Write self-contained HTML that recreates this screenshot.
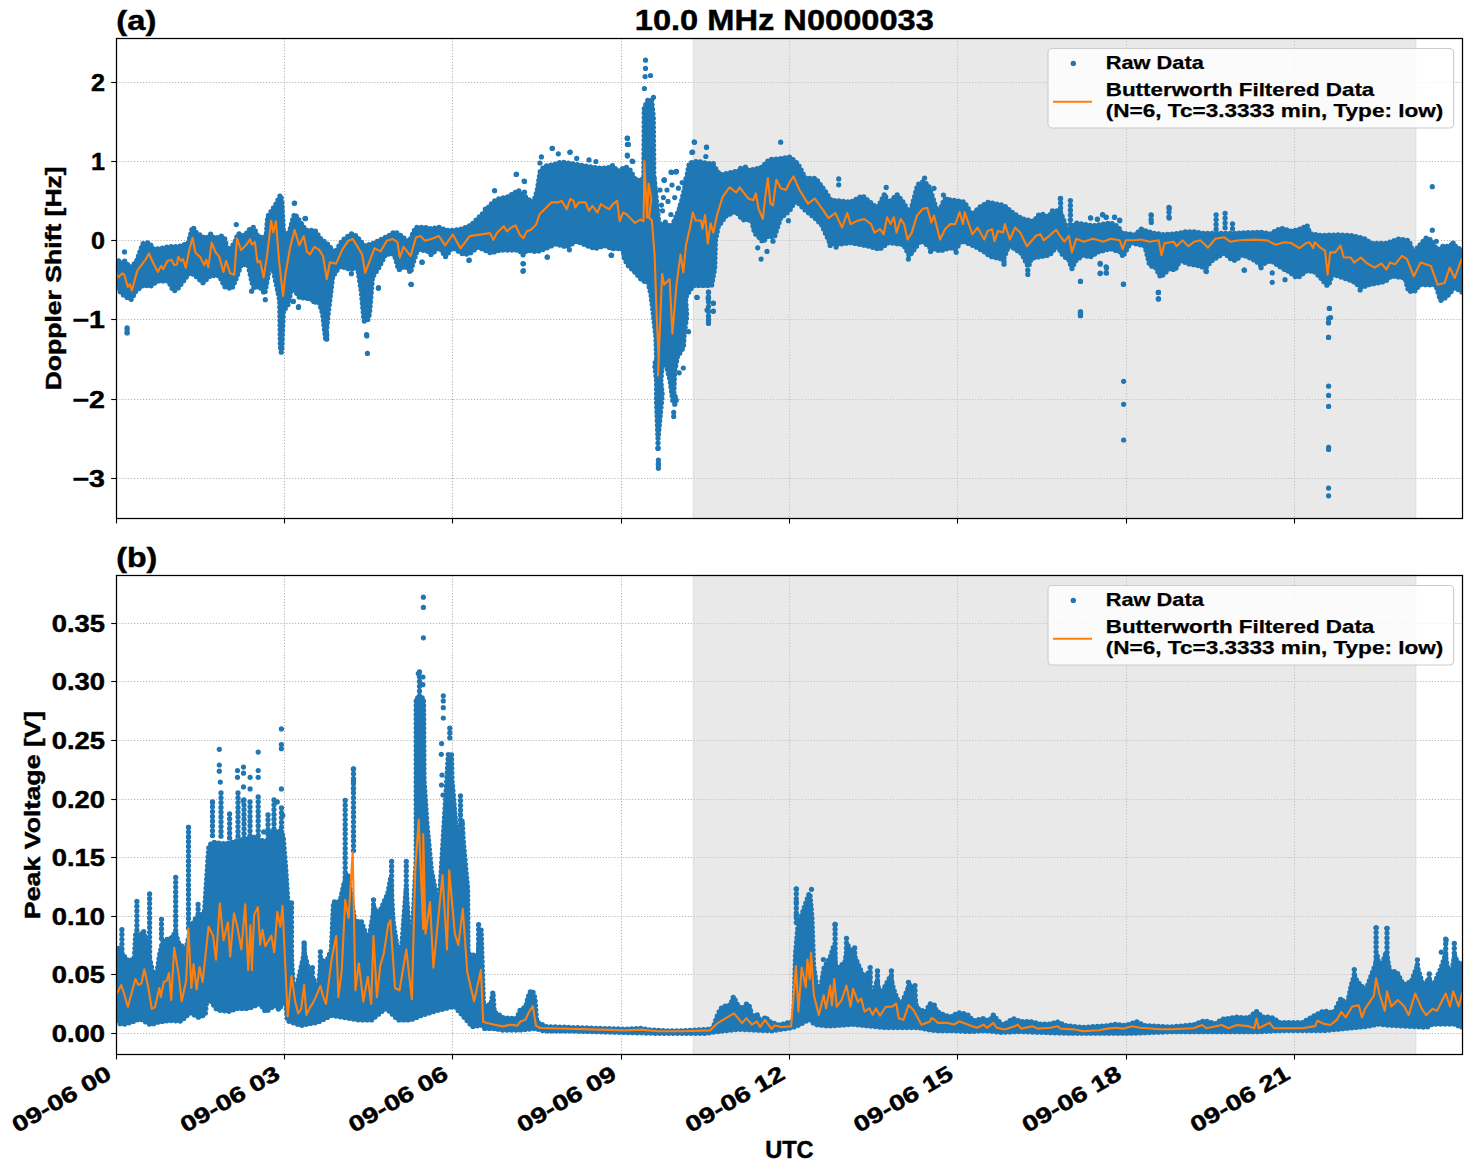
<!DOCTYPE html>
<html><head><meta charset="utf-8"><style>html,body{margin:0;padding:0;background:#fff;width:1472px;height:1172px;overflow:hidden}</style></head>
<body><svg width="1472" height="1172" viewBox="0 0 1472 1172" style="display:block">
<rect width="1472" height="1172" fill="#fff"/>
<g font-family="'Liberation Sans', sans-serif" font-weight="bold" fill="#000">
<clipPath id="clipa"><rect x="116.5" y="38.5" width="1346.0" height="480.0"/></clipPath>
<line x1="116.5" y1="38.5" x2="116.5" y2="518.5" stroke="#b0b0b0" stroke-width="1.1" stroke-dasharray="1.1,1.83"/>
<line x1="284.5" y1="38.5" x2="284.5" y2="518.5" stroke="#b0b0b0" stroke-width="1.1" stroke-dasharray="1.1,1.83"/>
<line x1="452.5" y1="38.5" x2="452.5" y2="518.5" stroke="#b0b0b0" stroke-width="1.1" stroke-dasharray="1.1,1.83"/>
<line x1="621.5" y1="38.5" x2="621.5" y2="518.5" stroke="#b0b0b0" stroke-width="1.1" stroke-dasharray="1.1,1.83"/>
<line x1="789.5" y1="38.5" x2="789.5" y2="518.5" stroke="#b0b0b0" stroke-width="1.1" stroke-dasharray="1.1,1.83"/>
<line x1="957.5" y1="38.5" x2="957.5" y2="518.5" stroke="#b0b0b0" stroke-width="1.1" stroke-dasharray="1.1,1.83"/>
<line x1="1126.5" y1="38.5" x2="1126.5" y2="518.5" stroke="#b0b0b0" stroke-width="1.1" stroke-dasharray="1.1,1.83"/>
<line x1="1294.5" y1="38.5" x2="1294.5" y2="518.5" stroke="#b0b0b0" stroke-width="1.1" stroke-dasharray="1.1,1.83"/>
<line x1="116.5" y1="82.5" x2="1462.5" y2="82.5" stroke="#b0b0b0" stroke-width="1.1" stroke-dasharray="1.1,1.83"/>
<line x1="116.5" y1="161.5" x2="1462.5" y2="161.5" stroke="#b0b0b0" stroke-width="1.1" stroke-dasharray="1.1,1.83"/>
<line x1="116.5" y1="240.5" x2="1462.5" y2="240.5" stroke="#b0b0b0" stroke-width="1.1" stroke-dasharray="1.1,1.83"/>
<line x1="116.5" y1="319.5" x2="1462.5" y2="319.5" stroke="#b0b0b0" stroke-width="1.1" stroke-dasharray="1.1,1.83"/>
<line x1="116.5" y1="399.5" x2="1462.5" y2="399.5" stroke="#b0b0b0" stroke-width="1.1" stroke-dasharray="1.1,1.83"/>
<line x1="116.5" y1="478.5" x2="1462.5" y2="478.5" stroke="#b0b0b0" stroke-width="1.1" stroke-dasharray="1.1,1.83"/>
<rect x="693.3" y="38.5" width="722.5" height="480.0" fill="#d3d3d3" fill-opacity="0.5" stroke="#d3d3d3" stroke-opacity="0.5" stroke-width="1.39"/>
<g clip-path="url(#clipa)">
<path d="M118.6,261.0 L118.6,290.2 L124.8,296.2 L131.1,299.4 L135.8,291.1 L143.1,285.3 L144.3,285.0 L150.5,286.2 L157.4,280.9 L167.4,280.9 L168.5,281.2 L173.7,291.1 L177.0,289.5 L189.0,273.5 L190.3,272.7 L191.6,273.0 L197.2,277.2 L202.9,282.8 L210.3,275.6 L218.7,275.6 L219.7,276.5 L224.8,286.7 L231.8,288.7 L235.8,279.4 L240.7,265.6 L241.4,264.8 L242.5,264.5 L247.0,264.5 L248.3,265.5 L252.6,284.9 L254.3,288.4 L258.3,286.4 L259.9,286.6 L264.7,293.8 L269.2,268.7 L270.4,267.4 L272.1,267.4 L273.1,268.8 L279.7,300.3 L280.4,346.5 L281.3,352.3 L281.6,352.3 L283.4,311.0 L288.1,304.3 L291.1,290.7 L292.5,289.4 L293.6,289.4 L294.6,290.1 L300.1,298.3 L307.2,297.1 L313.8,300.3 L318.4,301.8 L319.3,302.6 L322.7,314.0 L325.7,339.5 L327.9,315.7 L332.6,277.1 L339.0,267.2 L340.1,266.4 L341.3,266.4 L350.0,269.3 L355.9,267.8 L357.0,268.1 L357.8,269.0 L361.1,289.6 L364.1,320.9 L364.8,321.4 L367.5,320.5 L369.4,314.0 L372.5,277.0 L378.9,267.3 L385.1,255.0 L386.1,254.1 L393.1,254.0 L394.5,254.8 L398.7,269.8 L404.3,266.5 L405.6,266.4 L406.7,267.0 L410.5,272.7 L412.5,264.6 L417.1,250.8 L417.8,249.8 L418.8,249.4 L427.4,251.1 L431.3,254.7 L437.7,248.3 L439.5,248.0 L440.6,248.7 L445.3,256.9 L451.2,248.7 L452.2,248.0 L453.7,248.1 L462.6,254.0 L469.0,254.0 L477.2,247.5 L478.4,247.0 L490.9,253.0 L499.7,250.1 L518.8,250.1 L519.8,250.7 L523.0,254.9 L526.1,250.8 L527.1,250.2 L536.6,251.6 L545.3,248.7 L555.1,244.0 L567.2,246.9 L576.7,240.9 L586.7,245.6 L595.2,248.5 L604.4,245.5 L612.5,248.6 L621.9,248.6 L623.2,250.1 L624.4,258.4 L627.6,264.8 L635.4,272.6 L641.3,279.5 L645.1,281.7 L646.6,281.3 L648.1,282.1 L651.1,295.1 L655.9,336.5 L656.6,360.1 L654.6,363.7 L656.6,381.0 L656.6,401.4 L657.9,436.3 L658.2,436.3 L662.2,394.6 L660.8,381.0 L662.3,363.8 L663.0,362.9 L664.1,362.6 L665.2,362.9 L666.0,363.9 L670.2,380.7 L672.9,401.9 L674.9,404.3 L676.9,398.0 L674.4,396.0 L673.8,394.8 L674.5,372.6 L677.3,357.0 L683.4,347.5 L684.0,336.3 L686.7,316.0 L685.5,297.6 L692.5,286.3 L693.4,285.5 L711.6,285.4 L714.7,268.1 L715.4,240.7 L718.2,226.7 L725.6,216.3 L734.8,211.7 L736.6,212.2 L742.9,219.8 L750.4,219.9 L751.7,220.6 L754.7,233.1 L761.5,239.6 L762.6,242.2 L767.9,235.9 L769.0,235.8 L774.3,237.1 L780.6,218.0 L789.4,210.8 L794.4,202.4 L796.2,201.6 L797.5,202.2 L805.9,210.7 L814.5,217.6 L821.5,224.5 L829.9,242.8 L837.1,244.3 L850.8,242.6 L868.1,246.0 L879.6,249.2 L888.4,242.6 L902.7,244.3 L904.1,245.2 L909.5,256.0 L919.6,241.7 L920.6,240.9 L922.3,241.2 L930.7,247.9 L940.0,251.0 L949.9,247.7 L956.1,249.1 L960.5,241.7 L962.4,240.9 L975.1,246.3 L983.7,251.4 L990.3,256.4 L1003.5,259.3 L1008.1,247.1 L1009.1,246.2 L1010.7,246.1 L1021.7,253.6 L1028.4,266.8 L1031.1,259.0 L1031.8,258.1 L1049.8,254.9 L1055.5,247.8 L1057.0,247.2 L1058.5,248.0 L1062.9,255.3 L1069.0,260.0 L1072.0,268.6 L1074.8,261.4 L1083.4,254.7 L1084.5,254.8 L1089.6,257.4 L1098.1,251.8 L1110.8,248.7 L1120.8,252.1 L1123.1,256.7 L1123.9,254.2 L1129.9,243.7 L1131.7,242.7 L1144.1,245.8 L1145.1,246.4 L1149.8,265.5 L1155.5,267.3 L1160.6,277.2 L1169.6,268.4 L1171.1,268.3 L1174.9,270.4 L1179.3,261.6 L1180.3,260.8 L1181.7,260.8 L1187.6,263.7 L1196.5,265.2 L1205.7,267.9 L1211.1,261.1 L1223.3,253.5 L1224.4,253.2 L1225.6,253.7 L1231.3,259.4 L1235.7,260.5 L1241.0,255.2 L1243.0,254.8 L1256.1,260.9 L1260.6,265.3 L1269.8,260.8 L1271.1,260.7 L1281.7,267.7 L1288.6,271.2 L1296.5,277.5 L1300.1,276.2 L1305.5,271.0 L1313.7,271.0 L1319.7,276.6 L1327.3,285.7 L1328.6,285.1 L1331.8,275.5 L1333.2,274.3 L1353.2,281.3 L1361.3,287.6 L1368.9,284.6 L1385.5,281.3 L1390.4,276.4 L1391.7,276.0 L1403.9,277.7 L1404.9,278.2 L1405.5,279.2 L1408.6,291.3 L1414.5,291.3 L1419.2,285.2 L1420.2,284.6 L1435.2,284.8 L1436.2,285.9 L1440.6,300.5 L1446.6,296.9 L1454.0,288.1 L1455.6,288.1 L1462.0,291.9 L1462.0,250.5 L1452.8,244.4 L1438.3,249.2 L1437.0,249.1 L1436.0,248.3 L1431.2,240.3 L1426.3,237.8 L1415.3,250.3 L1413.7,251.0 L1412.0,249.8 L1408.9,240.5 L1398.7,239.1 L1386.7,243.3 L1371.0,243.3 L1365.1,238.9 L1352.1,235.6 L1338.7,234.8 L1321.6,235.6 L1310.9,233.8 L1309.6,232.8 L1307.0,225.5 L1301.9,228.7 L1291.1,231.3 L1280.9,228.1 L1270.5,233.9 L1260.1,232.2 L1236.3,233.3 L1201.9,233.3 L1194.2,231.8 L1185.7,231.8 L1179.7,233.3 L1164.5,234.8 L1153.6,233.2 L1147.3,231.6 L1141.1,229.1 L1135.9,234.3 L1134.6,234.8 L1121.9,233.1 L1121.0,232.4 L1118.2,226.8 L1110.4,222.9 L1092.9,225.8 L1075.7,223.0 L1070.3,229.7 L1068.7,230.3 L1067.0,229.0 L1060.0,210.9 L1052.2,210.9 L1049.6,215.9 L1048.4,216.8 L1047.2,216.7 L1041.8,214.0 L1038.7,215.0 L1034.5,220.7 L1032.7,221.3 L1022.6,219.0 L1013.9,213.8 L1003.9,205.5 L988.1,202.3 L978.8,207.7 L973.8,213.6 L972.1,214.1 L970.8,213.3 L964.3,202.0 L944.6,199.0 L940.0,209.7 L939.0,210.6 L937.7,210.6 L936.3,209.3 L929.6,187.6 L924.1,181.3 L917.8,184.5 L911.2,209.3 L910.3,210.5 L908.9,210.7 L907.8,210.1 L902.5,201.3 L897.1,194.7 L890.0,201.8 L888.6,202.2 L886.9,200.9 L884.8,193.8 L878.5,206.4 L876.6,207.3 L875.5,206.9 L862.4,195.8 L850.9,202.2 L830.8,200.2 L825.1,191.1 L815.5,178.3 L806.3,178.3 L805.0,177.8 L797.8,163.9 L790.3,157.1 L780.8,158.7 L769.6,159.5 L760.8,168.0 L751.8,169.8 L740.0,170.6 L721.2,174.9 L719.4,174.2 L712.9,164.5 L697.1,161.3 L690.5,162.9 L689.4,162.8 L685.9,182.5 L680.3,206.6 L672.7,224.8 L671.3,226.0 L660.0,223.9 L658.7,222.6 L654.1,177.4 L636.4,180.4 L635.0,179.4 L630.5,170.5 L625.8,167.0 L618.1,171.2 L616.7,170.5 L613.0,165.5 L607.8,168.0 L598.1,168.1 L561.5,162.0 L552.6,165.0 L544.1,166.4 L540.2,171.5 L537.2,191.1 L534.0,200.7 L533.1,201.7 L532.0,201.9 L530.9,201.4 L523.3,195.3 L518.2,190.2 L513.3,193.9 L507.0,197.1 L499.1,198.7 L493.5,201.5 L484.5,212.0 L470.6,225.5 L462.6,228.8 L454.3,230.4 L446.3,230.3 L438.8,227.4 L431.3,228.8 L423.4,227.3 L415.7,227.3 L410.0,240.1 L408.6,241.1 L407.2,240.8 L399.4,234.6 L394.6,231.6 L390.7,234.8 L372.3,244.0 L364.9,245.7 L363.7,245.0 L356.3,236.1 L351.6,233.8 L342.2,240.5 L336.1,251.0 L335.1,251.8 L333.9,251.8 L327.0,243.6 L320.7,238.9 L315.0,230.4 L306.7,230.4 L305.5,229.8 L294.8,213.9 L293.4,216.8 L289.4,232.5 L287.9,233.4 L285.0,233.4 L283.9,232.8 L283.4,231.5 L281.8,201.0 L280.5,194.9 L275.6,204.8 L267.7,216.6 L266.3,235.4 L265.1,236.9 L258.9,237.1 L257.6,236.6 L253.7,227.1 L249.3,229.8 L244.7,235.5 L243.3,235.6 L238.2,233.6 L234.6,242.9 L230.3,248.7 L228.5,249.3 L226.9,248.0 L224.4,237.8 L220.6,235.9 L215.9,238.3 L214.7,238.4 L213.7,237.8 L210.8,234.0 L206.9,238.0 L205.0,238.3 L196.0,232.4 L193.0,227.1 L192.4,227.8 L188.4,242.6 L187.3,243.7 L178.7,246.6 L170.3,246.6 L155.1,249.4 L153.6,248.8 L148.8,242.7 L142.9,243.7 L136.4,261.8 L131.6,266.8 L130.3,267.1 L129.2,266.6 L124.6,261.0 L120.9,263.0 L119.6,262.5 Z" fill="#1f77b4" fill-rule="evenodd" stroke="#1f77b4" stroke-width="5.3" stroke-dasharray="0 4.5" stroke-linecap="round"/>
<path d="M643.7,198.0 L654.0,198.0 L653.3,116.6 L651.5,99.7 L647.8,100.5 L644.3,107.4 Z" fill="#1f77b4" fill-rule="evenodd" stroke="#1f77b4" stroke-width="5.3" stroke-dasharray="0 4.5" stroke-linecap="round"/>
<circle cx="127.1" cy="329.6" r="2.6" fill="#1f77b4"/>
<circle cx="127.1" cy="333.0" r="2.6" fill="#1f77b4"/>
<circle cx="124.5" cy="251.9" r="2.6" fill="#1f77b4"/>
<circle cx="236.3" cy="224.6" r="2.6" fill="#1f77b4"/>
<circle cx="294.3" cy="203.3" r="2.6" fill="#1f77b4"/>
<circle cx="305.4" cy="218.6" r="2.6" fill="#1f77b4"/>
<circle cx="251.6" cy="291.2" r="2.6" fill="#1f77b4"/>
<circle cx="265.3" cy="299.7" r="2.6" fill="#1f77b4"/>
<circle cx="293.4" cy="301.4" r="2.6" fill="#1f77b4"/>
<circle cx="298.6" cy="306.5" r="2.6" fill="#1f77b4"/>
<circle cx="307.1" cy="298.0" r="2.6" fill="#1f77b4"/>
<circle cx="307.7" cy="298.0" r="2.6" fill="#1f77b4"/>
<circle cx="313.7" cy="301.4" r="2.6" fill="#1f77b4"/>
<circle cx="326.5" cy="334.7" r="2.6" fill="#1f77b4"/>
<circle cx="326.5" cy="338.9" r="2.6" fill="#1f77b4"/>
<circle cx="366.6" cy="334.7" r="2.6" fill="#1f77b4"/>
<circle cx="367.4" cy="353.4" r="2.6" fill="#1f77b4"/>
<circle cx="422.0" cy="262.2" r="2.6" fill="#1f77b4"/>
<circle cx="468.9" cy="260.4" r="2.6" fill="#1f77b4"/>
<circle cx="378.5" cy="287.7" r="2.6" fill="#1f77b4"/>
<circle cx="410.9" cy="284.3" r="2.6" fill="#1f77b4"/>
<circle cx="305.1" cy="218.6" r="2.6" fill="#1f77b4"/>
<circle cx="552.3" cy="148.3" r="2.6" fill="#1f77b4"/>
<circle cx="570.2" cy="152.0" r="2.6" fill="#1f77b4"/>
<circle cx="516.5" cy="174.2" r="2.6" fill="#1f77b4"/>
<circle cx="524.1" cy="181.1" r="2.6" fill="#1f77b4"/>
<circle cx="523.3" cy="270.6" r="2.6" fill="#1f77b4"/>
<circle cx="523.3" cy="263.8" r="2.6" fill="#1f77b4"/>
<circle cx="547.2" cy="257.0" r="2.6" fill="#1f77b4"/>
<circle cx="611.2" cy="255.3" r="2.6" fill="#1f77b4"/>
<circle cx="627.4" cy="138.4" r="2.6" fill="#1f77b4"/>
<circle cx="627.4" cy="144.4" r="2.6" fill="#1f77b4"/>
<circle cx="664.1" cy="180.2" r="2.6" fill="#1f77b4"/>
<circle cx="676.0" cy="171.7" r="2.6" fill="#1f77b4"/>
<circle cx="645.5" cy="60.2" r="2.6" fill="#1f77b4"/>
<circle cx="645.5" cy="68.4" r="2.6" fill="#1f77b4"/>
<circle cx="645.1" cy="76.6" r="2.6" fill="#1f77b4"/>
<circle cx="650.5" cy="75.5" r="2.6" fill="#1f77b4"/>
<circle cx="644.4" cy="88.5" r="2.6" fill="#1f77b4"/>
<circle cx="653.5" cy="97.3" r="2.6" fill="#1f77b4"/>
<circle cx="627.3" cy="138.0" r="2.6" fill="#1f77b4"/>
<circle cx="628.3" cy="144.4" r="2.6" fill="#1f77b4"/>
<circle cx="627.3" cy="155.1" r="2.6" fill="#1f77b4"/>
<circle cx="632.1" cy="161.1" r="2.6" fill="#1f77b4"/>
<circle cx="694.2" cy="142.1" r="2.6" fill="#1f77b4"/>
<circle cx="706.5" cy="147.2" r="2.6" fill="#1f77b4"/>
<circle cx="692.6" cy="152.2" r="2.6" fill="#1f77b4"/>
<circle cx="705.8" cy="156.5" r="2.6" fill="#1f77b4"/>
<circle cx="664.2" cy="180.2" r="2.6" fill="#1f77b4"/>
<circle cx="675.8" cy="172.0" r="2.6" fill="#1f77b4"/>
<circle cx="671.0" cy="172.2" r="2.6" fill="#1f77b4"/>
<circle cx="711.9" cy="169.0" r="2.6" fill="#1f77b4"/>
<circle cx="713.3" cy="163.5" r="2.6" fill="#1f77b4"/>
<circle cx="745.4" cy="167.0" r="2.6" fill="#1f77b4"/>
<circle cx="740.6" cy="168.3" r="2.6" fill="#1f77b4"/>
<circle cx="611.6" cy="247.8" r="2.6" fill="#1f77b4"/>
<circle cx="611.6" cy="255.3" r="2.6" fill="#1f77b4"/>
<circle cx="696.9" cy="297.3" r="2.6" fill="#1f77b4"/>
<circle cx="708.5" cy="292.2" r="2.6" fill="#1f77b4"/>
<circle cx="708.5" cy="298.3" r="2.6" fill="#1f77b4"/>
<circle cx="713.3" cy="303.1" r="2.6" fill="#1f77b4"/>
<circle cx="707.2" cy="309.9" r="2.6" fill="#1f77b4"/>
<circle cx="713.3" cy="311.3" r="2.6" fill="#1f77b4"/>
<circle cx="708.5" cy="319.5" r="2.6" fill="#1f77b4"/>
<circle cx="708.5" cy="323.5" r="2.6" fill="#1f77b4"/>
<circle cx="688.5" cy="331.7" r="2.6" fill="#1f77b4"/>
<circle cx="757.7" cy="247.8" r="2.6" fill="#1f77b4"/>
<circle cx="658.0" cy="448.5" r="2.6" fill="#1f77b4"/>
<circle cx="658.4" cy="463.5" r="2.6" fill="#1f77b4"/>
<circle cx="658.4" cy="468.3" r="2.6" fill="#1f77b4"/>
<circle cx="683.3" cy="368.0" r="2.6" fill="#1f77b4"/>
<circle cx="679.2" cy="372.8" r="2.6" fill="#1f77b4"/>
<circle cx="673.7" cy="416.5" r="2.6" fill="#1f77b4"/>
<circle cx="673.7" cy="412.4" r="2.6" fill="#1f77b4"/>
<circle cx="694.5" cy="142.2" r="2.6" fill="#1f77b4"/>
<circle cx="706.5" cy="147.3" r="2.6" fill="#1f77b4"/>
<circle cx="691.9" cy="152.4" r="2.6" fill="#1f77b4"/>
<circle cx="780.7" cy="142.2" r="2.6" fill="#1f77b4"/>
<circle cx="838.7" cy="178.9" r="2.6" fill="#1f77b4"/>
<circle cx="838.7" cy="184.8" r="2.6" fill="#1f77b4"/>
<circle cx="788.4" cy="220.7" r="2.6" fill="#1f77b4"/>
<circle cx="761.1" cy="259.1" r="2.6" fill="#1f77b4"/>
<circle cx="767.0" cy="251.4" r="2.6" fill="#1f77b4"/>
<circle cx="773.0" cy="241.2" r="2.6" fill="#1f77b4"/>
<circle cx="697.1" cy="297.5" r="2.6" fill="#1f77b4"/>
<circle cx="708.2" cy="298.3" r="2.6" fill="#1f77b4"/>
<circle cx="713.3" cy="303.4" r="2.6" fill="#1f77b4"/>
<circle cx="707.3" cy="310.3" r="2.6" fill="#1f77b4"/>
<circle cx="713.3" cy="311.1" r="2.6" fill="#1f77b4"/>
<circle cx="830.2" cy="245.4" r="2.6" fill="#1f77b4"/>
<circle cx="836.1" cy="247.1" r="2.6" fill="#1f77b4"/>
<circle cx="886.2" cy="187.4" r="2.6" fill="#1f77b4"/>
<circle cx="924.6" cy="178.0" r="2.6" fill="#1f77b4"/>
<circle cx="934.0" cy="188.3" r="2.6" fill="#1f77b4"/>
<circle cx="943.4" cy="195.1" r="2.6" fill="#1f77b4"/>
<circle cx="946.8" cy="199.4" r="2.6" fill="#1f77b4"/>
<circle cx="1004.0" cy="261.6" r="2.6" fill="#1f77b4"/>
<circle cx="1004.0" cy="264.2" r="2.6" fill="#1f77b4"/>
<circle cx="1027.8" cy="270.2" r="2.6" fill="#1f77b4"/>
<circle cx="1027.8" cy="274.4" r="2.6" fill="#1f77b4"/>
<circle cx="908.4" cy="259.1" r="2.6" fill="#1f77b4"/>
<circle cx="930.6" cy="251.4" r="2.6" fill="#1f77b4"/>
<circle cx="956.2" cy="252.3" r="2.6" fill="#1f77b4"/>
<circle cx="1060.3" cy="198.5" r="2.6" fill="#1f77b4"/>
<circle cx="1080.5" cy="281.3" r="2.6" fill="#1f77b4"/>
<circle cx="1080.5" cy="312.0" r="2.6" fill="#1f77b4"/>
<circle cx="1080.5" cy="314.5" r="2.6" fill="#1f77b4"/>
<circle cx="1123.5" cy="284.2" r="2.6" fill="#1f77b4"/>
<circle cx="1158.5" cy="292.4" r="2.6" fill="#1f77b4"/>
<circle cx="1158.5" cy="298.8" r="2.6" fill="#1f77b4"/>
<circle cx="1100.1" cy="263.3" r="2.6" fill="#1f77b4"/>
<circle cx="1100.1" cy="273.6" r="2.6" fill="#1f77b4"/>
<circle cx="1106.1" cy="266.8" r="2.6" fill="#1f77b4"/>
<circle cx="1106.1" cy="272.7" r="2.6" fill="#1f77b4"/>
<circle cx="1244.3" cy="270.2" r="2.6" fill="#1f77b4"/>
<circle cx="1205.9" cy="271.0" r="2.6" fill="#1f77b4"/>
<circle cx="1090.7" cy="218.1" r="2.6" fill="#1f77b4"/>
<circle cx="1097.5" cy="219.0" r="2.6" fill="#1f77b4"/>
<circle cx="1102.7" cy="214.7" r="2.6" fill="#1f77b4"/>
<circle cx="1106.1" cy="217.3" r="2.6" fill="#1f77b4"/>
<circle cx="1114.6" cy="217.3" r="2.6" fill="#1f77b4"/>
<circle cx="1119.7" cy="220.7" r="2.6" fill="#1f77b4"/>
<circle cx="1169.2" cy="208.7" r="2.6" fill="#1f77b4"/>
<circle cx="1169.2" cy="218.1" r="2.6" fill="#1f77b4"/>
<circle cx="1151.3" cy="215.6" r="2.6" fill="#1f77b4"/>
<circle cx="1151.3" cy="222.4" r="2.6" fill="#1f77b4"/>
<circle cx="1432.3" cy="186.7" r="2.6" fill="#1f77b4"/>
<circle cx="1432.3" cy="230.2" r="2.6" fill="#1f77b4"/>
<circle cx="1436.3" cy="241.3" r="2.6" fill="#1f77b4"/>
<circle cx="1329.4" cy="308.4" r="2.6" fill="#1f77b4"/>
<circle cx="1329.4" cy="318.1" r="2.6" fill="#1f77b4"/>
<circle cx="1328.5" cy="322.4" r="2.6" fill="#1f77b4"/>
<circle cx="1328.5" cy="337.4" r="2.6" fill="#1f77b4"/>
<circle cx="1272.2" cy="272.9" r="2.6" fill="#1f77b4"/>
<circle cx="1272.2" cy="282.3" r="2.6" fill="#1f77b4"/>
<circle cx="1285.0" cy="269.5" r="2.6" fill="#1f77b4"/>
<circle cx="1285.0" cy="279.7" r="2.6" fill="#1f77b4"/>
<circle cx="1261.1" cy="267.7" r="2.6" fill="#1f77b4"/>
<circle cx="1360.1" cy="289.9" r="2.6" fill="#1f77b4"/>
<circle cx="1442.8" cy="246.4" r="2.6" fill="#1f77b4"/>
<circle cx="1453.1" cy="243.0" r="2.6" fill="#1f77b4"/>
<circle cx="1080.4" cy="312.4" r="2.6" fill="#1f77b4"/>
<circle cx="1080.4" cy="315.5" r="2.6" fill="#1f77b4"/>
<circle cx="1158.4" cy="292.4" r="2.6" fill="#1f77b4"/>
<circle cx="1158.4" cy="299.0" r="2.6" fill="#1f77b4"/>
<circle cx="1123.6" cy="381.3" r="2.6" fill="#1f77b4"/>
<circle cx="1123.6" cy="404.3" r="2.6" fill="#1f77b4"/>
<circle cx="1123.6" cy="440.0" r="2.6" fill="#1f77b4"/>
<circle cx="1329.4" cy="308.5" r="2.6" fill="#1f77b4"/>
<circle cx="1328.6" cy="318.5" r="2.6" fill="#1f77b4"/>
<circle cx="1330.6" cy="317.5" r="2.6" fill="#1f77b4"/>
<circle cx="1328.6" cy="323.0" r="2.6" fill="#1f77b4"/>
<circle cx="1328.6" cy="337.3" r="2.6" fill="#1f77b4"/>
<circle cx="1328.6" cy="386.2" r="2.6" fill="#1f77b4"/>
<circle cx="1328.6" cy="395.4" r="2.6" fill="#1f77b4"/>
<circle cx="1328.6" cy="406.4" r="2.6" fill="#1f77b4"/>
<circle cx="1328.6" cy="447.3" r="2.6" fill="#1f77b4"/>
<circle cx="1328.6" cy="449.4" r="2.6" fill="#1f77b4"/>
<circle cx="1328.6" cy="488.1" r="2.6" fill="#1f77b4"/>
<circle cx="1328.6" cy="495.8" r="2.6" fill="#1f77b4"/>
<circle cx="1080.5" cy="281.4" r="2.6" fill="#1f77b4"/>
<circle cx="1080.5" cy="313.5" r="2.6" fill="#1f77b4"/>
<circle cx="1080.5" cy="315.7" r="2.6" fill="#1f77b4"/>
<circle cx="1100.3" cy="264.2" r="2.6" fill="#1f77b4"/>
<circle cx="1100.3" cy="273.1" r="2.6" fill="#1f77b4"/>
<circle cx="1106.5" cy="267.9" r="2.6" fill="#1f77b4"/>
<circle cx="1106.5" cy="273.1" r="2.6" fill="#1f77b4"/>
<circle cx="1123.4" cy="284.3" r="2.6" fill="#1f77b4"/>
<circle cx="1158.3" cy="292.6" r="2.6" fill="#1f77b4"/>
<circle cx="1158.3" cy="298.8" r="2.6" fill="#1f77b4"/>
<circle cx="1244.2" cy="270.1" r="2.6" fill="#1f77b4"/>
<circle cx="1206.4" cy="271.6" r="2.6" fill="#1f77b4"/>
<circle cx="1090.5" cy="217.8" r="2.6" fill="#1f77b4"/>
<circle cx="1097.3" cy="219.3" r="2.6" fill="#1f77b4"/>
<circle cx="1102.5" cy="214.8" r="2.6" fill="#1f77b4"/>
<circle cx="1106.2" cy="217.1" r="2.6" fill="#1f77b4"/>
<circle cx="1114.5" cy="217.1" r="2.6" fill="#1f77b4"/>
<circle cx="1119.7" cy="220.1" r="2.6" fill="#1f77b4"/>
<circle cx="516.1" cy="174.5" r="2.6" fill="#1f77b4"/>
<circle cx="524.5" cy="181.4" r="2.6" fill="#1f77b4"/>
<circle cx="524.5" cy="192.2" r="2.6" fill="#1f77b4"/>
<circle cx="552.2" cy="148.4" r="2.6" fill="#1f77b4"/>
<circle cx="558.3" cy="153.8" r="2.6" fill="#1f77b4"/>
<circle cx="569.8" cy="152.3" r="2.6" fill="#1f77b4"/>
<circle cx="541.4" cy="156.9" r="2.6" fill="#1f77b4"/>
<circle cx="539.9" cy="163.0" r="2.6" fill="#1f77b4"/>
<circle cx="576.7" cy="158.4" r="2.6" fill="#1f77b4"/>
<circle cx="589.0" cy="159.9" r="2.6" fill="#1f77b4"/>
<circle cx="595.9" cy="161.5" r="2.6" fill="#1f77b4"/>
<circle cx="627.4" cy="138.4" r="2.6" fill="#1f77b4"/>
<circle cx="628.2" cy="144.6" r="2.6" fill="#1f77b4"/>
<circle cx="627.4" cy="156.1" r="2.6" fill="#1f77b4"/>
<circle cx="632.8" cy="161.5" r="2.6" fill="#1f77b4"/>
<circle cx="485.3" cy="209.1" r="2.6" fill="#1f77b4"/>
<circle cx="494.6" cy="190.7" r="2.6" fill="#1f77b4"/>
<circle cx="469.2" cy="260.1" r="2.6" fill="#1f77b4"/>
<circle cx="523.0" cy="263.6" r="2.6" fill="#1f77b4"/>
<circle cx="523.0" cy="271.3" r="2.6" fill="#1f77b4"/>
<circle cx="547.3" cy="257.2" r="2.6" fill="#1f77b4"/>
<circle cx="611.3" cy="255.2" r="2.6" fill="#1f77b4"/>
<circle cx="569.4" cy="249.8" r="2.6" fill="#1f77b4"/>
<circle cx="294.6" cy="203.0" r="2.6" fill="#1f77b4"/>
<circle cx="305.3" cy="218.4" r="2.6" fill="#1f77b4"/>
<circle cx="293.0" cy="301.3" r="2.6" fill="#1f77b4"/>
<circle cx="298.4" cy="307.5" r="2.6" fill="#1f77b4"/>
<circle cx="307.6" cy="298.3" r="2.6" fill="#1f77b4"/>
<circle cx="315.3" cy="302.1" r="2.6" fill="#1f77b4"/>
<circle cx="326.8" cy="335.1" r="2.6" fill="#1f77b4"/>
<circle cx="326.8" cy="339.0" r="2.6" fill="#1f77b4"/>
<circle cx="366.8" cy="335.9" r="2.6" fill="#1f77b4"/>
<circle cx="422.1" cy="262.2" r="2.6" fill="#1f77b4"/>
<circle cx="411.3" cy="284.4" r="2.6" fill="#1f77b4"/>
<circle cx="378.3" cy="288.3" r="2.6" fill="#1f77b4"/>
<circle cx="351.4" cy="273.7" r="2.6" fill="#1f77b4"/>
<circle cx="664.3" cy="179.8" r="2.6" fill="#1f77b4"/>
<circle cx="671.8" cy="172.3" r="2.6" fill="#1f77b4"/>
<circle cx="676.5" cy="171.3" r="2.6" fill="#1f77b4"/>
<circle cx="663.4" cy="197.6" r="2.6" fill="#1f77b4"/>
<circle cx="668.0" cy="201.4" r="2.6" fill="#1f77b4"/>
<circle cx="674.7" cy="197.6" r="2.6" fill="#1f77b4"/>
<circle cx="662.5" cy="210.8" r="2.6" fill="#1f77b4"/>
<circle cx="670.9" cy="214.5" r="2.6" fill="#1f77b4"/>
<circle cx="678.4" cy="188.2" r="2.6" fill="#1f77b4"/>
<circle cx="682.2" cy="182.6" r="2.6" fill="#1f77b4"/>
<circle cx="685.9" cy="178.8" r="2.6" fill="#1f77b4"/>
<circle cx="665.3" cy="222.0" r="2.6" fill="#1f77b4"/>
<circle cx="674.7" cy="227.7" r="2.6" fill="#1f77b4"/>
<circle cx="680.3" cy="205.0" r="2.6" fill="#1f77b4"/>
<circle cx="684.0" cy="197.6" r="2.6" fill="#1f77b4"/>
<circle cx="661.5" cy="205.1" r="2.6" fill="#1f77b4"/>
<circle cx="667.0" cy="190.0" r="2.6" fill="#1f77b4"/>
<circle cx="672.0" cy="185.0" r="2.6" fill="#1f77b4"/>
<circle cx="660.0" cy="190.0" r="2.6" fill="#1f77b4"/>
<polyline points="1060.6,198.4 1060.6,214.8" fill="none" stroke="#1f77b4" stroke-width="5.3" stroke-dasharray="0 4.8" stroke-linecap="round"/>
<polyline points="1070.4,200.6 1070.4,226.8" fill="none" stroke="#1f77b4" stroke-width="5.3" stroke-dasharray="0 4.8" stroke-linecap="round"/>
<polyline points="1216.1,214.8 1216.1,229.8" fill="none" stroke="#1f77b4" stroke-width="5.3" stroke-dasharray="0 4.8" stroke-linecap="round"/>
<polyline points="1225.1,213.3 1225.1,229.8" fill="none" stroke="#1f77b4" stroke-width="5.3" stroke-dasharray="0 4.8" stroke-linecap="round"/>
<polyline points="1232.5,223.8 1232.5,231.3" fill="none" stroke="#1f77b4" stroke-width="5.3" stroke-dasharray="0 4.8" stroke-linecap="round"/>
<polyline points="1151.1,214.8 1151.1,222.3" fill="none" stroke="#1f77b4" stroke-width="5.3" stroke-dasharray="0 4.8" stroke-linecap="round"/>
<polyline points="1169.0,207.4 1169.0,219.3" fill="none" stroke="#1f77b4" stroke-width="5.3" stroke-dasharray="0 4.8" stroke-linecap="round"/>
<polyline points="1080.5,312.0 1080.5,314.5" fill="none" stroke="#1f77b4" stroke-width="5.3" stroke-dasharray="0 4.8" stroke-linecap="round"/>
<polyline points="658.4,460.1 658.4,468.3" fill="none" stroke="#1f77b4" stroke-width="5.3" stroke-dasharray="0 4.8" stroke-linecap="round"/>
<polyline points="658.0,438.3 658.0,448.5" fill="none" stroke="#1f77b4" stroke-width="5.3" stroke-dasharray="0 4.8" stroke-linecap="round"/>
<polyline points="127.1,327.8 127.1,335.5" fill="none" stroke="#1f77b4" stroke-width="5.3" stroke-dasharray="0 4.8" stroke-linecap="round"/>
<polyline points="708.5,292.2 708.5,323.5" fill="none" stroke="#1f77b4" stroke-width="5.3" stroke-dasharray="0 4.8" stroke-linecap="round"/>
<polyline points="116.6,274.0 118.2,277.4 122.3,273.3 124.3,274.7 127.8,287.0 129.8,284.2 131.9,290.4 137.3,270.6 141.4,265.1 145.5,259.7 148.9,253.5 152.3,261.0 157.8,271.9 161.2,265.8 163.3,269.2 167.4,261.0 171.5,259.7 174.2,265.1 176.9,264.4 178.3,256.9 181.0,261.0 183.1,259.0 185.8,267.8 189.2,250.1 192.6,237.8 195.4,252.8 200.1,256.9 204.2,265.1 206.3,259.7 208.3,267.2 211.7,242.6 215.2,251.5 219.3,256.9 223.4,271.9 226.1,261.0 230.2,273.3 234.3,274.7 237.0,238.5 241.1,250.1 246.6,244.6 250.0,239.2 252.0,244.6 254.8,241.9 257.5,262.4 260.2,261.0 263.6,277.4 267.1,255.6 271.2,220.7 273.2,232.3 275.9,221.4 279.2,262.2 283.1,296.0 285.4,274.5 290.0,248.3 294.6,229.9 299.2,245.3 303.8,236.1 306.9,251.4 309.9,254.5 314.5,246.8 319.2,249.9 323.0,256.0 326.8,279.1 329.9,262.2 336.1,263.7 342.2,249.9 348.3,240.7 352.9,239.1 357.6,246.8 362.2,254.5 365.2,272.9 369.8,260.6 374.5,248.3 380.6,251.4 386.7,240.7 392.9,239.1 397.5,242.2 399.8,257.6 403.6,246.8 408.2,252.9 410.6,256.0 415.9,237.6 420.5,236.1 425.1,240.7 431.3,239.1 439.0,236.1 445.1,245.3 452.8,234.5 460.5,248.3 469.7,236.1 490.0,233.1 493.4,239.9 496.8,233.1 500.2,229.7 503.7,226.3 507.1,231.4 510.5,228.0 515.6,225.4 519.9,234.8 523.3,238.2 526.7,231.4 531.0,229.7 536.1,224.6 539.5,214.3 544.6,209.2 551.4,202.4 558.3,202.4 561.7,200.7 566.8,209.2 570.2,199.0 573.6,200.7 575.3,207.5 578.7,202.4 585.6,202.4 589.0,210.9 592.4,205.8 597.5,212.6 600.9,204.1 606.0,207.5 609.5,209.2 612.9,204.1 617.1,200.7 619.7,221.2 623.1,212.6 626.5,214.3 631.6,219.5 635.1,222.9 640.2,219.5 643.6,221.2 644.4,161.4 647.0,217.7 648.7,183.6 651.3,199.0 649.1,217.7 651.9,220.5 654.6,254.6 656.7,316.0 658.7,360.0 658.0,375.5 660.1,322.9 662.1,273.7 664.2,284.6 669.6,279.2 672.4,333.8 676.5,284.6 680.5,254.6 683.3,272.4 686.0,245.1 690.1,227.3 692.8,212.3 695.6,220.5 701.0,220.5 702.4,228.7 705.1,215.0 707.8,243.7 710.6,223.2 713.3,232.8 717.4,213.7 722.7,196.8 729.5,187.4 736.3,192.5 739.7,187.4 748.3,198.5 753.4,200.2 755.9,193.4 758.5,208.7 762.8,219.0 765.3,196.8 767.9,178.0 770.4,203.6 773.0,205.3 776.4,179.7 780.7,188.3 785.8,190.0 789.2,183.1 793.5,176.3 799.5,190.0 808.0,203.6 814.8,198.5 823.3,210.4 828.5,218.1 835.3,213.0 842.1,227.5 847.2,213.0 850.6,224.1 857.5,220.7 864.3,219.0 871.1,224.1 874.5,232.6 880.0,229.2 880.2,229.2 883.7,234.3 887.1,217.3 890.5,224.1 893.9,217.3 896.5,232.6 900.7,219.0 904.1,224.1 907.5,239.5 911.8,232.6 916.9,215.6 922.9,208.7 927.2,207.9 931.4,222.4 934.0,215.6 940.0,239.5 945.1,229.2 950.2,224.1 955.3,224.1 959.6,212.2 963.0,224.1 964.7,212.2 972.4,234.3 977.5,227.5 984.3,239.5 987.7,230.9 992.0,229.2 994.6,241.2 998.0,230.9 1003.1,232.6 1004.8,224.1 1009.9,239.5 1015.1,227.5 1020.2,232.6 1027.0,246.3 1036.0,235.8 1040.5,234.3 1043.5,240.3 1049.4,235.8 1056.2,229.8 1059.9,235.8 1064.4,241.7 1068.9,235.8 1071.9,252.2 1076.3,238.8 1080.1,240.3 1083.8,241.7 1092.8,238.8 1098.8,240.3 1103.2,241.7 1110.7,238.8 1119.7,240.3 1122.7,249.2 1125.7,240.3 1134.6,240.3 1140.6,239.5 1149.6,241.7 1158.6,240.3 1161.5,255.2 1164.5,243.2 1173.5,241.7 1176.5,246.2 1182.5,240.3 1188.4,246.2 1194.4,241.7 1200.4,240.3 1207.9,247.7 1215.4,238.8 1224.3,237.3 1230.3,241.7 1239.3,240.3 1255.1,239.6 1267.1,240.4 1275.6,244.7 1284.1,242.2 1291.0,243.0 1299.5,248.1 1306.3,243.0 1309.7,242.2 1313.1,248.1 1314.8,242.2 1320.0,247.3 1325.1,250.7 1327.6,274.6 1330.2,252.4 1335.3,252.4 1340.4,245.6 1343.9,257.5 1350.7,257.5 1354.1,262.6 1360.9,257.5 1366.0,262.6 1374.6,267.7 1381.4,263.5 1386.5,269.5 1389.9,262.6 1395.1,264.3 1401.9,255.8 1407.0,259.2 1413.8,276.3 1420.6,262.6 1430.9,266.0 1437.7,284.8 1444.5,283.1 1449.7,267.7 1454.8,278.0 1461.6,259.2 1465.0,257.5" fill="none" stroke="#ff7f0e" stroke-width="2.1" stroke-linejoin="round"/>
</g>
<rect x="116.5" y="38.5" width="1346.0" height="480.0" fill="none" stroke="#000" stroke-width="1.25"/>
<line x1="116.5" y1="518.5" x2="116.5" y2="523.5" stroke="#000" stroke-width="1.1"/>
<line x1="284.5" y1="518.5" x2="284.5" y2="523.5" stroke="#000" stroke-width="1.1"/>
<line x1="452.5" y1="518.5" x2="452.5" y2="523.5" stroke="#000" stroke-width="1.1"/>
<line x1="621.5" y1="518.5" x2="621.5" y2="523.5" stroke="#000" stroke-width="1.1"/>
<line x1="789.5" y1="518.5" x2="789.5" y2="523.5" stroke="#000" stroke-width="1.1"/>
<line x1="957.5" y1="518.5" x2="957.5" y2="523.5" stroke="#000" stroke-width="1.1"/>
<line x1="1126.5" y1="518.5" x2="1126.5" y2="523.5" stroke="#000" stroke-width="1.1"/>
<line x1="1294.5" y1="518.5" x2="1294.5" y2="523.5" stroke="#000" stroke-width="1.1"/>
<line x1="111.2" y1="82.5" x2="116.5" y2="82.5" stroke="#000" stroke-width="1.1"/>
<text x="105.0" y="90.5" font-size="23.0" text-anchor="end" textLength="14.0" lengthAdjust="spacingAndGlyphs" stroke="#000" stroke-width="0.45" font-family="'Liberation Sans', sans-serif" font-weight="bold">2</text>
<line x1="111.2" y1="161.5" x2="116.5" y2="161.5" stroke="#000" stroke-width="1.1"/>
<text x="105.0" y="169.5" font-size="23.0" text-anchor="end" textLength="14.0" lengthAdjust="spacingAndGlyphs" stroke="#000" stroke-width="0.45" font-family="'Liberation Sans', sans-serif" font-weight="bold">1</text>
<line x1="111.2" y1="240.5" x2="116.5" y2="240.5" stroke="#000" stroke-width="1.1"/>
<text x="105.0" y="248.5" font-size="23.0" text-anchor="end" textLength="14.0" lengthAdjust="spacingAndGlyphs" stroke="#000" stroke-width="0.45" font-family="'Liberation Sans', sans-serif" font-weight="bold">0</text>
<line x1="111.2" y1="319.5" x2="116.5" y2="319.5" stroke="#000" stroke-width="1.1"/>
<text x="105.0" y="327.5" font-size="23.0" text-anchor="end" textLength="32.6" lengthAdjust="spacingAndGlyphs" stroke="#000" stroke-width="0.45" font-family="'Liberation Sans', sans-serif" font-weight="bold">−1</text>
<line x1="111.2" y1="399.5" x2="116.5" y2="399.5" stroke="#000" stroke-width="1.1"/>
<text x="105.0" y="407.5" font-size="23.0" text-anchor="end" textLength="32.6" lengthAdjust="spacingAndGlyphs" stroke="#000" stroke-width="0.45" font-family="'Liberation Sans', sans-serif" font-weight="bold">−2</text>
<line x1="111.2" y1="478.5" x2="116.5" y2="478.5" stroke="#000" stroke-width="1.1"/>
<text x="105.0" y="486.5" font-size="23.0" text-anchor="end" textLength="32.6" lengthAdjust="spacingAndGlyphs" stroke="#000" stroke-width="0.45" font-family="'Liberation Sans', sans-serif" font-weight="bold">−3</text>
<rect x="1048" y="48.5" width="405.6" height="79.5" rx="4" ry="4" fill="#ffffff" fill-opacity="0.8" stroke="#cccccc" stroke-width="1.1"/>
<circle cx="1073.3" cy="63.4" r="2.7" fill="#1f77b4"/>
<line x1="1053" y1="101.8" x2="1092" y2="101.8" stroke="#ff7f0e" stroke-width="2.1"/>
<text x="1105.8" y="69.1" font-size="18.4" text-anchor="start" textLength="98" lengthAdjust="spacingAndGlyphs" stroke="#000" stroke-width="0.25" font-family="'Liberation Sans', sans-serif" font-weight="bold">Raw Data</text>
<text x="1105.8" y="95.9" font-size="18.4" text-anchor="start" textLength="268.5" lengthAdjust="spacingAndGlyphs" stroke="#000" stroke-width="0.25" font-family="'Liberation Sans', sans-serif" font-weight="bold">Butterworth Filtered Data</text>
<text x="1105.8" y="116.7" font-size="18.4" text-anchor="start" textLength="337.5" lengthAdjust="spacingAndGlyphs" stroke="#000" stroke-width="0.25" font-family="'Liberation Sans', sans-serif" font-weight="bold">(N=6, Tc=3.3333 min, Type: low)</text>
<clipPath id="clipb"><rect x="116.5" y="575.5" width="1346.0" height="479.0"/></clipPath>
<line x1="116.5" y1="575.5" x2="116.5" y2="1054.5" stroke="#b0b0b0" stroke-width="1.1" stroke-dasharray="1.1,1.83"/>
<line x1="284.5" y1="575.5" x2="284.5" y2="1054.5" stroke="#b0b0b0" stroke-width="1.1" stroke-dasharray="1.1,1.83"/>
<line x1="452.5" y1="575.5" x2="452.5" y2="1054.5" stroke="#b0b0b0" stroke-width="1.1" stroke-dasharray="1.1,1.83"/>
<line x1="621.5" y1="575.5" x2="621.5" y2="1054.5" stroke="#b0b0b0" stroke-width="1.1" stroke-dasharray="1.1,1.83"/>
<line x1="789.5" y1="575.5" x2="789.5" y2="1054.5" stroke="#b0b0b0" stroke-width="1.1" stroke-dasharray="1.1,1.83"/>
<line x1="957.5" y1="575.5" x2="957.5" y2="1054.5" stroke="#b0b0b0" stroke-width="1.1" stroke-dasharray="1.1,1.83"/>
<line x1="1126.5" y1="575.5" x2="1126.5" y2="1054.5" stroke="#b0b0b0" stroke-width="1.1" stroke-dasharray="1.1,1.83"/>
<line x1="1294.5" y1="575.5" x2="1294.5" y2="1054.5" stroke="#b0b0b0" stroke-width="1.1" stroke-dasharray="1.1,1.83"/>
<line x1="116.5" y1="1033.5" x2="1462.5" y2="1033.5" stroke="#b0b0b0" stroke-width="1.1" stroke-dasharray="1.1,1.83"/>
<line x1="116.5" y1="974.5" x2="1462.5" y2="974.5" stroke="#b0b0b0" stroke-width="1.1" stroke-dasharray="1.1,1.83"/>
<line x1="116.5" y1="916.5" x2="1462.5" y2="916.5" stroke="#b0b0b0" stroke-width="1.1" stroke-dasharray="1.1,1.83"/>
<line x1="116.5" y1="857.5" x2="1462.5" y2="857.5" stroke="#b0b0b0" stroke-width="1.1" stroke-dasharray="1.1,1.83"/>
<line x1="116.5" y1="799.5" x2="1462.5" y2="799.5" stroke="#b0b0b0" stroke-width="1.1" stroke-dasharray="1.1,1.83"/>
<line x1="116.5" y1="740.5" x2="1462.5" y2="740.5" stroke="#b0b0b0" stroke-width="1.1" stroke-dasharray="1.1,1.83"/>
<line x1="116.5" y1="681.5" x2="1462.5" y2="681.5" stroke="#b0b0b0" stroke-width="1.1" stroke-dasharray="1.1,1.83"/>
<line x1="116.5" y1="623.5" x2="1462.5" y2="623.5" stroke="#b0b0b0" stroke-width="1.1" stroke-dasharray="1.1,1.83"/>
<rect x="693.3" y="575.5" width="722.5" height="479.0" fill="#d3d3d3" fill-opacity="0.5" stroke="#d3d3d3" stroke-opacity="0.5" stroke-width="1.39"/>
<g clip-path="url(#clipb)">
<path d="M118.7,948.5 L118.7,1023.5 L124.7,1024.1 L131.7,1022.0 L139.7,1018.9 L140.9,1019.1 L150.5,1024.7 L158.8,1021.9 L169.5,1020.4 L181.0,1021.1 L189.3,1013.4 L190.6,1012.9 L198.4,1017.2 L205.2,1014.9 L206.6,1001.1 L207.3,999.9 L208.5,999.4 L210.1,1000.1 L217.2,1010.0 L229.2,1011.3 L236.6,1008.4 L248.5,1008.4 L259.3,1003.9 L260.9,1004.7 L265.8,1011.9 L274.1,1005.4 L275.7,1006.0 L279.1,1009.8 L282.4,1003.2 L283.4,1002.5 L284.6,1002.5 L286.0,1004.1 L287.4,1020.8 L301.3,1025.5 L309.7,1023.4 L313.3,1023.3 L317.4,1022.3 L331.6,1015.4 L359.0,1019.9 L371.6,1019.9 L384.6,1009.1 L385.9,1008.6 L387.3,1009.2 L398.1,1019.9 L410.4,1019.9 L421.5,1015.5 L435.0,1011.0 L453.9,1006.4 L455.3,1007.1 L471.1,1025.1 L471.6,1026.6 L481.7,1025.2 L483.0,1026.0 L484.3,1028.4 L494.7,1028.5 L502.8,1030.1 L518.8,1030.1 L535.2,1028.4 L543.7,1030.9 L567.9,1030.9 L657.5,1033.3 L705.9,1033.3 L715.9,1031.7 L738.9,1029.2 L771.4,1030.8 L792.2,1027.6 L800.0,1024.5 L809.1,1019.4 L810.3,1019.9 L814.8,1024.4 L828.6,1025.9 L853.1,1024.3 L885.8,1027.6 L918.5,1027.6 L930.1,1029.9 L936.4,1030.7 L952.7,1030.7 L968.9,1031.5 L985.3,1030.7 L1001.6,1032.3 L1017.9,1031.5 L1066.8,1033.2 L1131.9,1033.2 L1171.7,1031.7 L1258.6,1031.7 L1280.4,1030.6 L1323.8,1030.6 L1367.1,1026.3 L1378.3,1024.1 L1389.3,1025.2 L1426.7,1027.3 L1432.4,1024.1 L1454.3,1024.1 L1462.0,1027.3 L1462.0,962.9 L1458.5,962.9 L1457.3,962.3 L1454.8,955.6 L1451.9,970.1 L1451.1,971.2 L1450.0,971.6 L1448.9,971.2 L1448.1,970.1 L1445.2,955.6 L1441.0,968.2 L1434.4,983.4 L1433.5,984.4 L1432.2,984.6 L1431.0,983.8 L1428.9,978.4 L1425.2,984.1 L1423.9,984.6 L1422.5,984.0 L1417.2,966.2 L1411.4,981.6 L1404.3,984.6 L1402.7,983.7 L1396.6,971.6 L1390.9,971.5 L1389.5,970.5 L1386.3,951.7 L1382.3,963.9 L1381.1,964.9 L1379.6,964.9 L1378.6,963.8 L1377.2,955.6 L1375.8,963.6 L1366.5,988.5 L1365.2,989.0 L1364.1,988.6 L1357.3,981.8 L1354.5,975.4 L1351.9,983.1 L1347.6,1002.6 L1347.0,1003.6 L1345.6,1004.2 L1344.2,1003.5 L1341.3,998.0 L1334.4,1011.8 L1333.6,1012.6 L1332.3,1012.8 L1324.1,1010.8 L1316.2,1014.8 L1302.4,1022.6 L1279.9,1022.6 L1271.2,1017.2 L1262.1,1017.0 L1256.4,1011.4 L1248.4,1018.2 L1237.0,1017.2 L1222.5,1019.3 L1215.4,1023.7 L1204.4,1020.6 L1193.9,1024.8 L1171.6,1027.0 L1144.7,1025.7 L1136.7,1021.8 L1125.7,1025.7 L1115.7,1024.2 L1107.7,1025.8 L1083.0,1027.4 L1066.4,1025.7 L1056.9,1021.8 L1050.8,1024.1 L1040.4,1024.1 L1030.6,1021.7 L1020.7,1021.6 L1013.2,1018.7 L1004.3,1024.6 L1003.0,1024.9 L1001.9,1024.5 L996.9,1019.5 L993.5,1015.0 L990.0,1020.1 L989.1,1020.8 L987.8,1020.7 L983.4,1018.5 L973.5,1020.8 L972.4,1020.3 L967.8,1014.9 L963.6,1013.5 L958.0,1012.8 L951.1,1016.8 L943.8,1015.0 L936.4,1011.2 L934.0,1004.4 L929.7,1003.8 L926.5,1011.1 L925.6,1011.8 L924.5,1012.0 L916.6,1007.8 L913.2,986.9 L909.5,985.0 L902.1,1002.8 L900.7,1003.8 L898.9,1003.2 L893.6,989.5 L890.5,976.3 L882.1,991.9 L880.3,992.4 L879.0,991.3 L877.1,980.7 L874.4,991.3 L872.9,992.4 L871.3,991.9 L870.6,990.7 L868.1,972.7 L865.3,976.0 L863.9,976.1 L862.8,975.3 L853.0,952.5 L849.7,949.1 L847.6,944.9 L845.1,962.0 L838.9,967.5 L837.6,968.0 L836.3,967.5 L835.6,966.3 L833.9,945.6 L830.4,957.0 L824.0,968.3 L820.7,987.9 L819.3,989.1 L817.3,988.5 L816.8,987.5 L813.6,966.1 L811.9,917.2 L809.8,893.2 L809.1,893.8 L798.0,925.7 L795.5,954.7 L793.9,1019.8 L793.6,1020.9 L792.7,1021.6 L779.2,1025.0 L768.9,1021.5 L765.4,1016.6 L763.3,1021.1 L762.1,1021.8 L760.9,1021.6 L760.0,1020.8 L756.7,1013.6 L754.5,1016.7 L753.1,1016.8 L752.0,1016.1 L748.7,1004.4 L746.4,1004.0 L743.4,1008.3 L742.4,1008.7 L741.2,1008.5 L737.3,1004.6 L733.5,996.7 L730.5,1004.9 L722.2,1006.9 L717.9,1014.1 L713.0,1028.0 L711.5,1029.1 L682.1,1030.8 L665.7,1030.8 L649.1,1030.0 L641.1,1028.4 L624.8,1029.2 L546.3,1026.7 L537.6,1022.4 L536.6,1021.4 L534.9,998.2 L532.5,990.5 L529.6,992.5 L525.6,1006.9 L519.8,1010.6 L517.0,1018.1 L515.5,1018.6 L502.1,1017.7 L498.2,1014.1 L495.0,1012.6 L494.2,1011.6 L492.9,992.1 L491.2,1003.9 L485.7,1006.3 L484.4,1006.0 L483.5,1004.8 L481.1,930.1 L480.6,929.5 L478.3,954.7 L477.4,955.6 L476.0,955.7 L469.3,954.1 L468.0,952.6 L467.6,888.6 L463.1,839.0 L462.2,820.3 L460.1,830.5 L459.0,831.6 L457.5,831.6 L456.3,829.9 L452.0,780.2 L451.5,754.0 L448.4,754.0 L439.9,893.4 L439.2,894.6 L438.0,895.1 L436.7,894.6 L436.0,893.5 L431.4,870.6 L426.9,823.2 L424.0,780.1 L423.5,698.0 L416.2,698.0 L416.2,859.1 L412.8,927.1 L412.3,928.3 L410.9,929.0 L409.5,928.5 L408.8,927.3 L406.2,888.9 L401.5,949.7 L400.8,951.1 L399.0,951.5 L397.6,950.1 L393.0,920.5 L390.6,878.5 L387.8,893.6 L379.4,912.6 L378.0,913.1 L376.6,912.5 L374.3,907.2 L369.8,934.3 L368.8,935.5 L367.5,935.7 L366.0,934.6 L361.0,920.6 L356.7,922.2 L355.4,921.8 L354.6,920.9 L347.8,873.9 L343.8,884.6 L340.2,900.8 L338.8,901.8 L333.6,901.8 L331.4,949.9 L326.3,962.3 L325.1,962.9 L323.7,962.5 L321.6,958.8 L318.8,984.3 L317.1,985.5 L315.4,984.8 L313.1,977.3 L312.7,979.0 L311.7,979.9 L310.4,979.9 L309.2,978.9 L308.0,967.4 L304.3,953.2 L297.1,985.6 L295.6,987.0 L293.8,986.4 L293.2,985.1 L285.5,866.1 L283.1,835.7 L279.4,830.6 L273.2,833.6 L266.5,841.3 L265.4,842.0 L252.8,837.1 L225.3,844.0 L212.7,842.1 L208.9,845.9 L204.5,912.5 L203.5,913.6 L196.6,916.4 L191.1,927.4 L186.6,946.6 L185.8,947.9 L184.7,948.2 L183.6,947.8 L178.5,942.8 L175.3,932.2 L172.4,937.4 L167.5,939.1 L162.5,941.6 L159.8,954.0 L156.8,973.4 L156.0,974.7 L154.1,974.9 L152.9,973.7 L143.5,930.7 L140.7,935.4 L139.8,936.1 L138.1,936.0 L135.7,933.9 L134.4,958.2 L133.5,959.8 L127.9,960.1 L126.7,959.7 Z" fill="#1f77b4" fill-rule="evenodd" stroke="#1f77b4" stroke-width="5.3" stroke-dasharray="0 4.5" stroke-linecap="round"/>
<circle cx="219.3" cy="749.3" r="2.6" fill="#1f77b4"/>
<circle cx="219.3" cy="765.0" r="2.6" fill="#1f77b4"/>
<circle cx="219.3" cy="771.2" r="2.6" fill="#1f77b4"/>
<circle cx="220.3" cy="782.1" r="2.6" fill="#1f77b4"/>
<circle cx="212.5" cy="802.6" r="2.6" fill="#1f77b4"/>
<circle cx="237.5" cy="770.5" r="2.6" fill="#1f77b4"/>
<circle cx="237.5" cy="777.3" r="2.6" fill="#1f77b4"/>
<circle cx="243.5" cy="767.1" r="2.6" fill="#1f77b4"/>
<circle cx="243.5" cy="773.2" r="2.6" fill="#1f77b4"/>
<circle cx="243.5" cy="786.9" r="2.6" fill="#1f77b4"/>
<circle cx="250.1" cy="777.3" r="2.6" fill="#1f77b4"/>
<circle cx="250.1" cy="788.9" r="2.6" fill="#1f77b4"/>
<circle cx="258.2" cy="752.1" r="2.6" fill="#1f77b4"/>
<circle cx="258.2" cy="770.5" r="2.6" fill="#1f77b4"/>
<circle cx="258.2" cy="777.3" r="2.6" fill="#1f77b4"/>
<circle cx="281.4" cy="728.9" r="2.6" fill="#1f77b4"/>
<circle cx="281.4" cy="744.6" r="2.6" fill="#1f77b4"/>
<circle cx="281.4" cy="748.7" r="2.6" fill="#1f77b4"/>
<circle cx="281.4" cy="788.9" r="2.6" fill="#1f77b4"/>
<circle cx="243.2" cy="800.5" r="2.6" fill="#1f77b4"/>
<circle cx="263.7" cy="831.9" r="2.6" fill="#1f77b4"/>
<circle cx="271.9" cy="831.9" r="2.6" fill="#1f77b4"/>
<circle cx="277.3" cy="801.9" r="2.6" fill="#1f77b4"/>
<circle cx="282.8" cy="815.5" r="2.6" fill="#1f77b4"/>
<circle cx="188.5" cy="827.3" r="2.6" fill="#1f77b4"/>
<circle cx="188.5" cy="836.7" r="2.6" fill="#1f77b4"/>
<circle cx="423.4" cy="597.2" r="2.6" fill="#1f77b4"/>
<circle cx="423.4" cy="607.4" r="2.6" fill="#1f77b4"/>
<circle cx="423.4" cy="637.8" r="2.6" fill="#1f77b4"/>
<circle cx="418.3" cy="673.6" r="2.6" fill="#1f77b4"/>
<circle cx="422.9" cy="677.0" r="2.6" fill="#1f77b4"/>
<circle cx="422.9" cy="684.7" r="2.6" fill="#1f77b4"/>
<circle cx="443.3" cy="695.8" r="2.6" fill="#1f77b4"/>
<circle cx="443.3" cy="700.9" r="2.6" fill="#1f77b4"/>
<circle cx="443.3" cy="707.7" r="2.6" fill="#1f77b4"/>
<circle cx="443.3" cy="718.0" r="2.6" fill="#1f77b4"/>
<circle cx="353.4" cy="769.2" r="2.6" fill="#1f77b4"/>
<circle cx="353.4" cy="780.8" r="2.6" fill="#1f77b4"/>
<circle cx="353.4" cy="788.8" r="2.6" fill="#1f77b4"/>
<circle cx="441.6" cy="743.6" r="2.6" fill="#1f77b4"/>
<circle cx="441.3" cy="754.3" r="2.6" fill="#1f77b4"/>
<circle cx="796.3" cy="889.0" r="2.6" fill="#1f77b4"/>
<circle cx="796.3" cy="902.1" r="2.6" fill="#1f77b4"/>
<circle cx="796.3" cy="915.4" r="2.6" fill="#1f77b4"/>
<circle cx="835.1" cy="924.4" r="2.6" fill="#1f77b4"/>
<circle cx="823.4" cy="959.5" r="2.6" fill="#1f77b4"/>
<circle cx="811.5" cy="889.3" r="2.6" fill="#1f77b4"/>
<circle cx="442.0" cy="775.0" r="2.6" fill="#1f77b4"/>
<circle cx="441.5" cy="785.0" r="2.6" fill="#1f77b4"/>
<circle cx="443.0" cy="795.0" r="2.6" fill="#1f77b4"/>
<circle cx="1376.1" cy="927.8" r="2.6" fill="#1f77b4"/>
<circle cx="1387.0" cy="928.3" r="2.6" fill="#1f77b4"/>
<circle cx="1446.1" cy="940.2" r="2.6" fill="#1f77b4"/>
<circle cx="1441.3" cy="952.2" r="2.6" fill="#1f77b4"/>
<circle cx="1445.7" cy="955.4" r="2.6" fill="#1f77b4"/>
<polyline points="188.5,827.3 188.5,930.0" fill="none" stroke="#1f77b4" stroke-width="5.3" stroke-dasharray="0 4.8" stroke-linecap="round"/>
<polyline points="161.5,919.3 161.5,941.7" fill="none" stroke="#1f77b4" stroke-width="5.3" stroke-dasharray="0 4.8" stroke-linecap="round"/>
<polyline points="212.5,802.0 212.5,840.0" fill="none" stroke="#1f77b4" stroke-width="5.3" stroke-dasharray="0 4.8" stroke-linecap="round"/>
<polyline points="221.0,793.0 221.0,840.0" fill="none" stroke="#1f77b4" stroke-width="5.3" stroke-dasharray="0 4.8" stroke-linecap="round"/>
<polyline points="229.6,814.0 229.6,840.0" fill="none" stroke="#1f77b4" stroke-width="5.3" stroke-dasharray="0 4.8" stroke-linecap="round"/>
<polyline points="238.0,793.0 238.0,840.0" fill="none" stroke="#1f77b4" stroke-width="5.3" stroke-dasharray="0 4.8" stroke-linecap="round"/>
<polyline points="244.0,800.0 244.0,840.0" fill="none" stroke="#1f77b4" stroke-width="5.3" stroke-dasharray="0 4.8" stroke-linecap="round"/>
<polyline points="250.0,802.0 250.0,840.0" fill="none" stroke="#1f77b4" stroke-width="5.3" stroke-dasharray="0 4.8" stroke-linecap="round"/>
<polyline points="258.2,797.0 258.2,840.0" fill="none" stroke="#1f77b4" stroke-width="5.3" stroke-dasharray="0 4.8" stroke-linecap="round"/>
<polyline points="274.0,800.0 274.0,840.0" fill="none" stroke="#1f77b4" stroke-width="5.3" stroke-dasharray="0 4.8" stroke-linecap="round"/>
<polyline points="281.5,808.0 281.5,840.0" fill="none" stroke="#1f77b4" stroke-width="5.3" stroke-dasharray="0 4.8" stroke-linecap="round"/>
<polyline points="268.0,815.0 268.0,840.0" fill="none" stroke="#1f77b4" stroke-width="5.3" stroke-dasharray="0 4.8" stroke-linecap="round"/>
<polyline points="136.9,901.4 136.9,959.6" fill="none" stroke="#1f77b4" stroke-width="5.3" stroke-dasharray="0 4.8" stroke-linecap="round"/>
<polyline points="149.6,893.9 149.6,959.6" fill="none" stroke="#1f77b4" stroke-width="5.3" stroke-dasharray="0 4.8" stroke-linecap="round"/>
<polyline points="175.7,877.5 175.7,944.7" fill="none" stroke="#1f77b4" stroke-width="5.3" stroke-dasharray="0 4.8" stroke-linecap="round"/>
<polyline points="198.1,904.4 198.1,944.7" fill="none" stroke="#1f77b4" stroke-width="5.3" stroke-dasharray="0 4.8" stroke-linecap="round"/>
<polyline points="291.5,902.9 291.5,974.6" fill="none" stroke="#1f77b4" stroke-width="5.3" stroke-dasharray="0 4.8" stroke-linecap="round"/>
<polyline points="304.2,944.7 304.2,989.5" fill="none" stroke="#1f77b4" stroke-width="5.3" stroke-dasharray="0 4.8" stroke-linecap="round"/>
<polyline points="121.9,929.7 121.9,959.6" fill="none" stroke="#1f77b4" stroke-width="5.3" stroke-dasharray="0 4.8" stroke-linecap="round"/>
<polyline points="304.1,942.8 304.1,983.5" fill="none" stroke="#1f77b4" stroke-width="5.3" stroke-dasharray="0 4.8" stroke-linecap="round"/>
<polyline points="312.4,967.7 312.4,994.8" fill="none" stroke="#1f77b4" stroke-width="5.3" stroke-dasharray="0 4.8" stroke-linecap="round"/>
<polyline points="320.4,951.8 320.4,983.5" fill="none" stroke="#1f77b4" stroke-width="5.3" stroke-dasharray="0 4.8" stroke-linecap="round"/>
<polyline points="345.2,800.4 345.2,893.1" fill="none" stroke="#1f77b4" stroke-width="5.3" stroke-dasharray="0 4.8" stroke-linecap="round"/>
<polyline points="373.5,899.8 373.5,938.3" fill="none" stroke="#1f77b4" stroke-width="5.3" stroke-dasharray="0 4.8" stroke-linecap="round"/>
<polyline points="391.6,861.4 391.6,927.0" fill="none" stroke="#1f77b4" stroke-width="5.3" stroke-dasharray="0 4.8" stroke-linecap="round"/>
<polyline points="406.3,861.4 406.3,938.3" fill="none" stroke="#1f77b4" stroke-width="5.3" stroke-dasharray="0 4.8" stroke-linecap="round"/>
<polyline points="460.5,795.8 460.5,870.4" fill="none" stroke="#1f77b4" stroke-width="5.3" stroke-dasharray="0 4.8" stroke-linecap="round"/>
<polyline points="478.6,924.7 478.6,983.5" fill="none" stroke="#1f77b4" stroke-width="5.3" stroke-dasharray="0 4.8" stroke-linecap="round"/>
<polyline points="353.5,769.0 353.5,855.0" fill="none" stroke="#1f77b4" stroke-width="5.3" stroke-dasharray="0 4.8" stroke-linecap="round"/>
<polyline points="419.5,671.9 419.5,709.5" fill="none" stroke="#1f77b4" stroke-width="5.3" stroke-dasharray="0 4.8" stroke-linecap="round"/>
<polyline points="449.8,728.2 449.8,741.9" fill="none" stroke="#1f77b4" stroke-width="5.3" stroke-dasharray="0 4.8" stroke-linecap="round"/>
<polyline points="796.3,889.0 796.3,925.2" fill="none" stroke="#1f77b4" stroke-width="5.3" stroke-dasharray="0 4.8" stroke-linecap="round"/>
<polyline points="835.1,924.4 835.1,966.0" fill="none" stroke="#1f77b4" stroke-width="5.3" stroke-dasharray="0 4.8" stroke-linecap="round"/>
<polyline points="846.5,938.3 846.5,966.0" fill="none" stroke="#1f77b4" stroke-width="5.3" stroke-dasharray="0 4.8" stroke-linecap="round"/>
<polyline points="854.7,948.0 854.7,961.1" fill="none" stroke="#1f77b4" stroke-width="5.3" stroke-dasharray="0 4.8" stroke-linecap="round"/>
<polyline points="870.2,967.6 870.2,990.4" fill="none" stroke="#1f77b4" stroke-width="5.3" stroke-dasharray="0 4.8" stroke-linecap="round"/>
<polyline points="877.5,970.9 877.5,990.4" fill="none" stroke="#1f77b4" stroke-width="5.3" stroke-dasharray="0 4.8" stroke-linecap="round"/>
<polyline points="891.4,970.9 891.4,990.4" fill="none" stroke="#1f77b4" stroke-width="5.3" stroke-dasharray="0 4.8" stroke-linecap="round"/>
<polyline points="908.5,982.3 908.5,1006.7" fill="none" stroke="#1f77b4" stroke-width="5.3" stroke-dasharray="0 4.8" stroke-linecap="round"/>
<polyline points="915.0,985.6 915.0,1006.7" fill="none" stroke="#1f77b4" stroke-width="5.3" stroke-dasharray="0 4.8" stroke-linecap="round"/>
<polyline points="1376.1,927.8 1376.1,987.0" fill="none" stroke="#1f77b4" stroke-width="5.3" stroke-dasharray="0 4.8" stroke-linecap="round"/>
<polyline points="1387.0,928.3 1387.0,987.0" fill="none" stroke="#1f77b4" stroke-width="5.3" stroke-dasharray="0 4.8" stroke-linecap="round"/>
<polyline points="1354.3,969.6 1354.3,997.8" fill="none" stroke="#1f77b4" stroke-width="5.3" stroke-dasharray="0 4.8" stroke-linecap="round"/>
<polyline points="1417.4,959.8 1417.4,997.8" fill="none" stroke="#1f77b4" stroke-width="5.3" stroke-dasharray="0 4.8" stroke-linecap="round"/>
<polyline points="1429.3,973.9 1429.3,997.8" fill="none" stroke="#1f77b4" stroke-width="5.3" stroke-dasharray="0 4.8" stroke-linecap="round"/>
<polyline points="1445.7,939.1 1445.7,987.0" fill="none" stroke="#1f77b4" stroke-width="5.3" stroke-dasharray="0 4.8" stroke-linecap="round"/>
<polyline points="1454.3,943.5 1454.3,991.3" fill="none" stroke="#1f77b4" stroke-width="5.3" stroke-dasharray="0 4.8" stroke-linecap="round"/>
<polyline points="116.7,994.0 121.2,985.0 124.2,994.0 127.9,1006.7 131.7,992.5 135.4,979.0 138.4,985.0 141.4,983.5 144.4,969.3 148.1,986.5 151.8,1008.9 154.8,1007.4 159.3,988.0 160.8,997.0 163.8,982.0 166.8,980.5 169.0,973.1 171.2,999.9 174.2,947.7 178.7,974.6 181.7,1001.4 186.2,980.5 188.4,928.3 191.4,988.0 193.6,964.1 196.6,989.5 199.6,967.1 202.6,982.0 208.6,926.8 213.1,935.7 216.0,959.6 219.8,903.6 223.5,940.2 228.0,922.3 230.2,956.6 234.0,913.3 237.0,925.3 241.4,949.2 245.2,904.4 248.2,970.1 250.4,925.3 251.9,970.1 254.1,914.8 257.9,907.3 260.1,944.7 262.4,929.7 265.3,946.2 271.3,935.7 274.3,952.2 277.3,911.8 280.3,926.8 282.5,905.8 287.7,1016.4 291.5,976.0 295.2,1001.4 298.2,1013.4 301.2,1008.9 304.2,985.0 306.4,1014.9 310.0,1007.4 312.4,1003.9 315.8,997.1 320.4,985.8 322.6,994.8 326.0,1003.9 328.3,985.8 331.7,958.6 336.2,936.0 338.4,997.1 341.8,969.9 345.2,899.8 348.6,917.9 352.7,852.4 355.4,990.3 358.8,963.2 363.3,1001.6 367.8,976.7 371.2,1003.9 373.5,936.0 376.9,997.1 380.3,965.4 383.7,954.1 388.2,924.7 390.4,920.2 395.0,988.0 399.5,990.3 406.3,949.6 411.9,999.3 415.3,868.2 418.7,819.6 423.2,929.2 423.2,834.3 425.5,933.8 430.0,902.1 433.4,967.7 442.5,875.0 447.0,949.6 449.2,870.4 454.9,933.8 458.3,945.1 462.8,908.9 467.3,972.2 474.1,1001.6 480.9,969.9 483.2,1021.9 494.5,1024.7 502.6,1026.4 510.8,1024.7 517.3,1025.6 520.5,1021.5 525.4,1019.8 528.7,1012.5 532.8,1006.0 536.0,1025.6 540.1,1028.0 567.8,1028.8 600.4,1029.6 624.9,1030.4 641.2,1029.6 657.5,1031.3 682.0,1031.3 710.0,1030.4 717.7,1023.1 725.9,1018.2 734.0,1013.3 742.2,1023.1 746.3,1018.2 752.0,1024.7 756.9,1021.4 760.1,1027.1 765.0,1019.8 771.5,1028.8 774.8,1025.5 781.3,1027.1 791.1,1026.3 796.0,966.0 798.4,1011.6 801.7,967.6 805.8,987.2 807.4,959.5 809.8,979.0 811.0,952.9 813.9,995.3 818.8,1014.9 823.7,995.3 826.1,1008.4 830.2,985.6 831.9,1005.1 834.3,979.0 836.7,1006.7 841.6,1000.2 846.5,985.6 850.6,1006.7 853.1,988.8 857.9,1001.9 861.2,998.6 864.5,1011.6 869.4,1008.4 872.6,1014.9 875.9,1008.4 880.0,1015.7 885.7,1006.7 892.2,1006.7 896.3,1003.5 898.7,1018.2 903.6,1019.8 908.5,1005.1 913.4,1010.0 921.5,1024.7 930.0,1021.4 931.4,1018.0 934.7,1019.7 937.9,1022.9 947.7,1022.9 954.2,1024.6 959.1,1021.3 965.7,1023.8 972.2,1026.2 977.1,1027.8 983.6,1024.6 986.9,1027.8 993.4,1022.9 996.6,1027.8 1004.8,1029.5 1014.6,1026.2 1017.8,1024.6 1021.1,1028.6 1032.5,1026.2 1037.4,1028.6 1050.4,1027.8 1057.8,1026.2 1060.2,1028.6 1074.9,1029.5 1083.1,1031.1 1099.4,1030.3 1107.5,1028.6 1115.7,1027.8 1123.8,1028.6 1132.0,1026.2 1140.1,1027.8 1160.9,1029.3 1171.7,1029.3 1193.5,1028.3 1202.2,1025.0 1206.5,1028.3 1221.7,1025.0 1228.3,1028.3 1237.0,1025.0 1247.8,1026.1 1254.3,1028.3 1256.5,1018.5 1258.7,1028.3 1269.6,1022.8 1273.9,1028.3 1302.2,1028.3 1315.2,1026.1 1317.4,1020.7 1323.9,1023.9 1330.4,1025.0 1337.0,1019.6 1341.3,1012.0 1345.7,1017.4 1352.2,1006.5 1358.7,1005.4 1362.0,1017.4 1365.2,1008.7 1369.6,1002.2 1373.9,995.7 1376.1,978.3 1379.3,993.5 1384.8,1010.9 1387.0,991.3 1391.3,1006.5 1397.8,1000.0 1404.3,1006.5 1408.7,1015.2 1415.2,993.5 1421.7,1008.7 1426.1,1015.2 1432.6,1008.7 1437.0,1010.9 1441.3,1002.2 1445.7,993.5 1450.0,1006.5 1453.3,991.3 1458.7,1006.5 1462.0,993.5 1464.1,991.3" fill="none" stroke="#ff7f0e" stroke-width="2.1" stroke-linejoin="round"/>
</g>
<rect x="116.5" y="575.5" width="1346.0" height="479.0" fill="none" stroke="#000" stroke-width="1.25"/>
<line x1="116.5" y1="1054.5" x2="116.5" y2="1059.5" stroke="#000" stroke-width="1.1"/>
<line x1="284.5" y1="1054.5" x2="284.5" y2="1059.5" stroke="#000" stroke-width="1.1"/>
<line x1="452.5" y1="1054.5" x2="452.5" y2="1059.5" stroke="#000" stroke-width="1.1"/>
<line x1="621.5" y1="1054.5" x2="621.5" y2="1059.5" stroke="#000" stroke-width="1.1"/>
<line x1="789.5" y1="1054.5" x2="789.5" y2="1059.5" stroke="#000" stroke-width="1.1"/>
<line x1="957.5" y1="1054.5" x2="957.5" y2="1059.5" stroke="#000" stroke-width="1.1"/>
<line x1="1126.5" y1="1054.5" x2="1126.5" y2="1059.5" stroke="#000" stroke-width="1.1"/>
<line x1="1294.5" y1="1054.5" x2="1294.5" y2="1059.5" stroke="#000" stroke-width="1.1"/>
<line x1="111.2" y1="1033.5" x2="116.5" y2="1033.5" stroke="#000" stroke-width="1.1"/>
<text x="105.0" y="1041.5" font-size="23.0" text-anchor="end" textLength="53.3" lengthAdjust="spacingAndGlyphs" stroke="#000" stroke-width="0.45" font-family="'Liberation Sans', sans-serif" font-weight="bold">0.00</text>
<line x1="111.2" y1="974.5" x2="116.5" y2="974.5" stroke="#000" stroke-width="1.1"/>
<text x="105.0" y="982.5" font-size="23.0" text-anchor="end" textLength="53.3" lengthAdjust="spacingAndGlyphs" stroke="#000" stroke-width="0.45" font-family="'Liberation Sans', sans-serif" font-weight="bold">0.05</text>
<line x1="111.2" y1="916.5" x2="116.5" y2="916.5" stroke="#000" stroke-width="1.1"/>
<text x="105.0" y="924.5" font-size="23.0" text-anchor="end" textLength="53.3" lengthAdjust="spacingAndGlyphs" stroke="#000" stroke-width="0.45" font-family="'Liberation Sans', sans-serif" font-weight="bold">0.10</text>
<line x1="111.2" y1="857.5" x2="116.5" y2="857.5" stroke="#000" stroke-width="1.1"/>
<text x="105.0" y="865.5" font-size="23.0" text-anchor="end" textLength="53.3" lengthAdjust="spacingAndGlyphs" stroke="#000" stroke-width="0.45" font-family="'Liberation Sans', sans-serif" font-weight="bold">0.15</text>
<line x1="111.2" y1="799.5" x2="116.5" y2="799.5" stroke="#000" stroke-width="1.1"/>
<text x="105.0" y="807.5" font-size="23.0" text-anchor="end" textLength="53.3" lengthAdjust="spacingAndGlyphs" stroke="#000" stroke-width="0.45" font-family="'Liberation Sans', sans-serif" font-weight="bold">0.20</text>
<line x1="111.2" y1="740.5" x2="116.5" y2="740.5" stroke="#000" stroke-width="1.1"/>
<text x="105.0" y="748.5" font-size="23.0" text-anchor="end" textLength="53.3" lengthAdjust="spacingAndGlyphs" stroke="#000" stroke-width="0.45" font-family="'Liberation Sans', sans-serif" font-weight="bold">0.25</text>
<line x1="111.2" y1="681.5" x2="116.5" y2="681.5" stroke="#000" stroke-width="1.1"/>
<text x="105.0" y="689.5" font-size="23.0" text-anchor="end" textLength="53.3" lengthAdjust="spacingAndGlyphs" stroke="#000" stroke-width="0.45" font-family="'Liberation Sans', sans-serif" font-weight="bold">0.30</text>
<line x1="111.2" y1="623.5" x2="116.5" y2="623.5" stroke="#000" stroke-width="1.1"/>
<text x="105.0" y="631.5" font-size="23.0" text-anchor="end" textLength="53.3" lengthAdjust="spacingAndGlyphs" stroke="#000" stroke-width="0.45" font-family="'Liberation Sans', sans-serif" font-weight="bold">0.35</text>
<rect x="1048" y="585.5" width="405.6" height="79.5" rx="4" ry="4" fill="#ffffff" fill-opacity="0.8" stroke="#cccccc" stroke-width="1.1"/>
<circle cx="1073.3" cy="600.4" r="2.7" fill="#1f77b4"/>
<line x1="1053" y1="638.8" x2="1092" y2="638.8" stroke="#ff7f0e" stroke-width="2.1"/>
<text x="1105.8" y="606.1" font-size="18.4" text-anchor="start" textLength="98" lengthAdjust="spacingAndGlyphs" stroke="#000" stroke-width="0.25" font-family="'Liberation Sans', sans-serif" font-weight="bold">Raw Data</text>
<text x="1105.8" y="632.9" font-size="18.4" text-anchor="start" textLength="268.5" lengthAdjust="spacingAndGlyphs" stroke="#000" stroke-width="0.25" font-family="'Liberation Sans', sans-serif" font-weight="bold">Butterworth Filtered Data</text>
<text x="1105.8" y="653.7" font-size="18.4" text-anchor="start" textLength="337.5" lengthAdjust="spacingAndGlyphs" stroke="#000" stroke-width="0.25" font-family="'Liberation Sans', sans-serif" font-weight="bold">(N=6, Tc=3.3333 min, Type: low)</text>
<text x="116.3" y="29.8" font-size="28" text-anchor="start" textLength="40" lengthAdjust="spacingAndGlyphs" stroke="#000" stroke-width="0.45" >(a)</text>
<text x="116.3" y="566.8" font-size="28" text-anchor="start" textLength="41" lengthAdjust="spacingAndGlyphs" stroke="#000" stroke-width="0.45" >(b)</text>
<text x="784.3" y="29.9" font-size="29" text-anchor="middle" textLength="299" lengthAdjust="spacingAndGlyphs" stroke="#000" stroke-width="0.45" >10.0 MHz N0000033</text>
<text x="0" y="0" font-size="22.3" text-anchor="middle" textLength="224" lengthAdjust="spacingAndGlyphs" stroke="#000" stroke-width="0.45" transform="translate(60.8,278.3) rotate(-90)">Doppler Shift [Hz]</text>
<text x="0" y="0" font-size="22.3" text-anchor="middle" textLength="208" lengthAdjust="spacingAndGlyphs" stroke="#000" stroke-width="0.45" transform="translate(39.5,815.2) rotate(-90)">Peak Voltage [V]</text>
<text x="789.4" y="1157.8" font-size="23" text-anchor="middle" textLength="48.5" lengthAdjust="spacingAndGlyphs" stroke="#000" stroke-width="0.45" >UTC</text>
<text x="0" y="0" font-size="22" text-anchor="end" textLength="110.5" lengthAdjust="spacingAndGlyphs" stroke="#000" stroke-width="0.45" transform="translate(113.1,1078.0) rotate(-30)">09-06 00</text>
<text x="0" y="0" font-size="22" text-anchor="end" textLength="110.5" lengthAdjust="spacingAndGlyphs" stroke="#000" stroke-width="0.45" transform="translate(281.4,1078.0) rotate(-30)">09-06 03</text>
<text x="0" y="0" font-size="22" text-anchor="end" textLength="110.5" lengthAdjust="spacingAndGlyphs" stroke="#000" stroke-width="0.45" transform="translate(449.8,1078.0) rotate(-30)">09-06 06</text>
<text x="0" y="0" font-size="22" text-anchor="end" textLength="110.5" lengthAdjust="spacingAndGlyphs" stroke="#000" stroke-width="0.45" transform="translate(618.1,1078.0) rotate(-30)">09-06 09</text>
<text x="0" y="0" font-size="22" text-anchor="end" textLength="110.5" lengthAdjust="spacingAndGlyphs" stroke="#000" stroke-width="0.45" transform="translate(786.4,1078.0) rotate(-30)">09-06 12</text>
<text x="0" y="0" font-size="22" text-anchor="end" textLength="110.5" lengthAdjust="spacingAndGlyphs" stroke="#000" stroke-width="0.45" transform="translate(954.8,1078.0) rotate(-30)">09-06 15</text>
<text x="0" y="0" font-size="22" text-anchor="end" textLength="110.5" lengthAdjust="spacingAndGlyphs" stroke="#000" stroke-width="0.45" transform="translate(1123.1,1078.0) rotate(-30)">09-06 18</text>
<text x="0" y="0" font-size="22" text-anchor="end" textLength="110.5" lengthAdjust="spacingAndGlyphs" stroke="#000" stroke-width="0.45" transform="translate(1291.4,1078.0) rotate(-30)">09-06 21</text>
</g></svg></body></html>
